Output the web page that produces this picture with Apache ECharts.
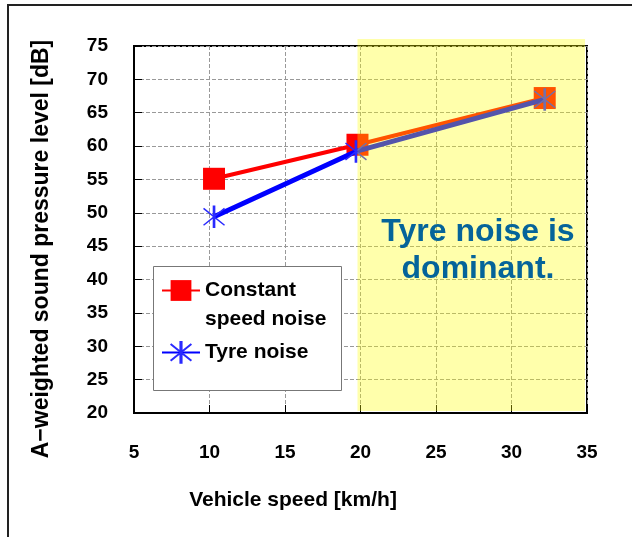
<!DOCTYPE html>
<html>
<head>
<meta charset="utf-8">
<script src="https://cdn.jsdelivr.net/npm/echarts@6/dist/echarts.min.js"></script>
<style>
html,body{margin:0;padding:0;background:#fff;}
#chart{width:632px;height:537px;}
</style>
</head>
<body>
<div id="chart"></div>
<script>
// ---- data ----
const constantSpeeds = [10.3, 19.8, 32.2];
const constantNoise = [55.1, 60.2, 67.2];
const tyreSpeeds = [10.3, 19.7, 32.2];
const tyreNoise = [49.4, 59.2, 67.0];
const seriesNames = ['Constant speed noise', 'Tyre noise'];
const xTicks = {min: 5, max: 35, interval: 5};
const yTicks = {min: 20, max: 75, interval: 5};
const xTitle = 'Vehicle speed [km/h]';
const yTitle = 'A\u2212weighted sound pressure level [dB]';
const noteText = 'Tyre noise is\ndominant.';
const dominantRange = [19.8, 34.87, 20.3, 76.05]; // xFrom, xTo, yFrom, yTo

const FONT = '"Liberation Sans", Arial, sans-serif';
const asterisk = 'path://M9.5,0h1v20h-1zM1,2L19,18M1,18L19,2';

const chart = echarts.init(document.getElementById('chart'), null, {renderer: 'canvas'});
chart.setOption({
  animation: false,
  backgroundColor: '#fff',
  grid: {left: 134, top: 46, right: 45, bottom: 124, show: true, borderColor: '#000', borderWidth: 2, backgroundColor: 'transparent'},
  xAxis: {
    type: 'value', min: xTicks.min, max: xTicks.max, interval: xTicks.interval,
    axisLine: {show: true, onZero: false, lineStyle: {color: '#000', width: 2}},
    axisTick: {show: true, inside: true, length: 8, lineStyle: {color: '#000', width: 1}},
    axisLabel: {margin: 30, color: '#000', fontFamily: FONT, fontWeight: 'bold', fontSize: 19},
    splitLine: {show: true, lineStyle: {color: '#999', type: [4, 2], width: 1}}
  },
  yAxis: {
    type: 'value', min: yTicks.min, max: yTicks.max, interval: yTicks.interval,
    axisLine: {show: true, onZero: false, lineStyle: {color: '#000', width: 2}},
    axisTick: {show: true, inside: true, length: 8, lineStyle: {color: '#000', width: 1}},
    axisLabel: {margin: 26, color: '#000', fontFamily: FONT, fontWeight: 'bold', fontSize: 19, padding: [5, 0, 0, 0]},
    splitLine: {show: true, lineStyle: {color: '#999', type: [4, 2], width: 1}}
  },
  legend: {
    data: seriesNames,
    orient: 'vertical',
    left: 161, top: 280,
    padding: 0,
    itemWidth: 38, itemHeight: 26, itemGap: 40,
    selectedMode: false,
    z: 6,
    formatter: function (n) { return n === seriesNames[0] ? 'Constant' : n; },
    textStyle: {color: '#000', fontFamily: FONT, fontWeight: 'bold', fontSize: 21}
  },
  series: [
    {
      name: seriesNames[0], type: 'line', z: 2,
      data: constantSpeeds.map((x, i) => [x, constantNoise[i]]),
      symbol: 'rect', symbolSize: 22,
      itemStyle: {color: '#FF0000'},
      lineStyle: {color: '#FF0000', width: 4},
      emphasis: {disabled: true}
    },
    {
      name: seriesNames[1], type: 'line', z: 3,
      data: tyreSpeeds.map((x, i) => [x, tyreNoise[i]]),
      symbol: asterisk, symbolSize: 21,
      itemStyle: {color: '#1010FF', borderColor: '#2a2aff', borderWidth: 1.5},
      lineStyle: {color: '#0000FF', width: 5},
      emphasis: {disabled: true}
    },
    {
      name: 'overlay', type: 'custom', z: 10, silent: true, clip: false,
      data: [dominantRange],
      encode: {x: [0, 1], y: [2, 3]},
      renderItem: function (params, api) {
        const p0 = api.coord([api.value(0), api.value(3)]);
        const p1 = api.coord([api.value(1), api.value(2)]);
        return {
          type: 'rect',
          shape: {x: p0[0], y: p0[1], width: p1[0] - p0[0], height: p1[1] - p0[1]},
          style: {fill: 'rgba(255,255,0,0.33)'}
        };
      }
    }
  ],
  graphic: [
    {type: 'polyline', z: 20, shape: {points: [[8, 537], [8, 5], [632, 5]]}, style: {stroke: '#222', lineWidth: 2, fill: null}},
    {type: 'rect', z: 4, shape: {x: 153.5, y: 266.5, width: 188, height: 124}, style: {fill: '#fff', stroke: '#777', lineWidth: 1}},
    {type: 'text', z: 7, x: 205, y: 319, style: {text: 'speed noise', fill: '#000', font: 'bold 21px ' + FONT, verticalAlign: 'middle', align: 'left'}},
    {type: 'text', z: 20, x: 478, y: 251, style: {text: noteText, fill: '#05649A', font: 'bold 32px ' + FONT, align: 'center', verticalAlign: 'middle', lineHeight: 37}},
    {type: 'text', z: 7, x: 293, y: 500, style: {text: xTitle, fill: '#000', font: 'bold 21px ' + FONT, align: 'center', verticalAlign: 'middle'}},
    {type: 'text', z: 7, x: 42, y: 249, rotation: Math.PI / 2, style: {text: yTitle, fill: '#000', font: 'bold 23px ' + FONT, align: 'center', verticalAlign: 'middle'}}
  ]
});
</script>
</body>
</html>
